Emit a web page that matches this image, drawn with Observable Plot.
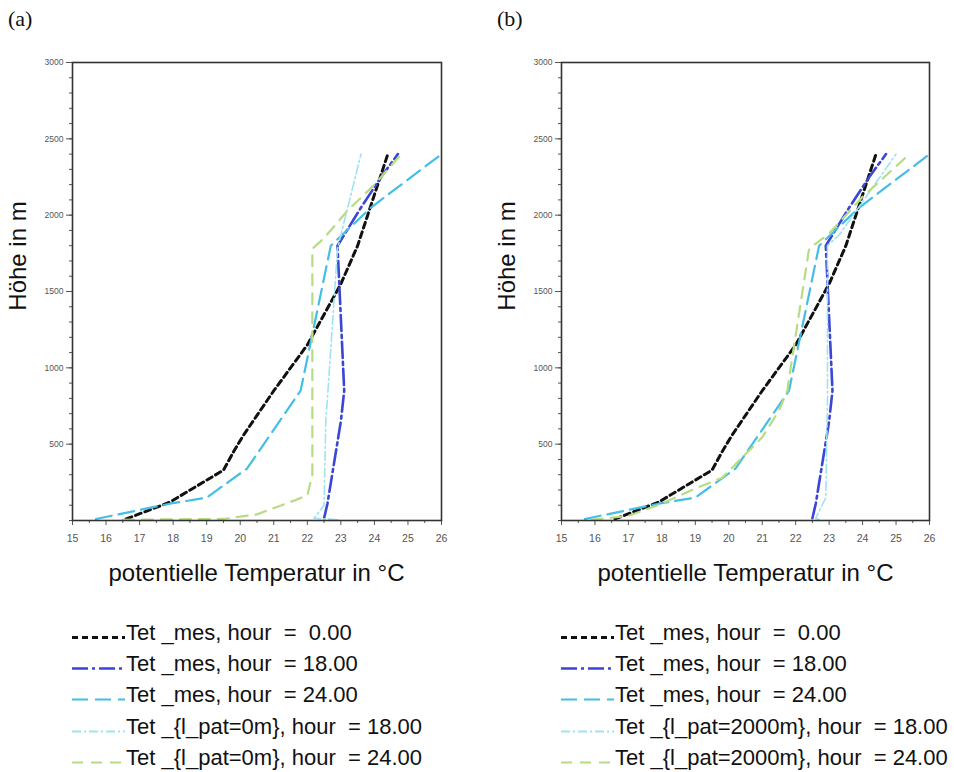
<!DOCTYPE html>
<html>
<head>
<meta charset="utf-8">
<script src="https://cdn.jsdelivr.net/npm/d3@7"></script>
<script src="https://cdn.jsdelivr.net/npm/@observablehq/plot@0.6"></script>
<style>
  body { margin: 0; background: #fff; font-family: "Liberation Sans", Arial, sans-serif; }
  #wrap { position: relative; width: 954px; height: 772px; overflow: hidden; }
  .panel { position: absolute; top: 0; }
  .plabel { position: absolute; top: 8px; font-family: "Liberation Serif", "DejaVu Serif", serif; font-size: 22px; line-height: 22px; color: #111; }
  .ytitle { position: absolute; font-size: 24px; line-height: 24px; white-space: nowrap; transform: translate(-50%, -50%) rotate(-90deg); color: #111; }
  .xtitle { position: absolute; top: 561px; width: 369px; text-align: center; font-size: 24px; line-height: 24px; color: #111; white-space: nowrap; }
  .legend { position: absolute; top: 617px; }
  .row { height: 31.2px; line-height: 31.2px; font-size: 22px; white-space: pre; color: #111; }
  .row svg { vertical-align: baseline; margin-right: 1px; }
</style>
</head>
<body>
<div id="wrap"></div>
<script>
// ---------------- data ----------------
// x ticks / y ticks
const xTicks = [15, 16, 17, 18, 19, 20, 21, 22, 23, 24, 25, 26];
const yTicks = [500, 1000, 1500, 2000, 2500, 3000];

// measured profiles [potential temperature °C, height m] (same in both panels)
const tetMes0 = [[16.6,10],[17.9,120],[19.5,330],[19.8,450],[20.1,560],[21.0,850],[22.0,1150],[23.0,1550],[23.5,1800],[23.8,2000],[24.4,2400]];
const tetMes18 = [[22.5,15],[22.6,110],[23.0,650],[23.1,850],[22.9,1800],[23.6,2050],[24.2,2250],[24.7,2400]];
const tetMes24 = [[15.7,10],[17.9,110],[19.0,150],[20.2,340],[21.8,850],[22.7,1800],[23.9,2050],[26.0,2400]];

// model profiles, panel (a): l_pat = 0 m
const patA18 = [[22.9,5],[22.2,15],[22.5,100],[22.55,650],[22.6,800],[22.9,1780],[23.6,2400]];
const patA24 = [[16.5,5],[19.5,10],[20.5,40],[21.6,130],[22.0,165],[22.15,300],[22.15,1780],[22.5,1850],[23.2,2030],[24.0,2200],[24.8,2400]];

// model profiles, panel (b): l_pat = 2000 m
const patB18 = [[22.7,5],[22.6,15],[22.9,150],[22.95,800],[22.95,1800],[23.3,1870],[24.2,2150],[25.0,2400]];
const patB24 = [[15.9,5],[17.0,30],[18.0,110],[18.9,200],[19.8,280],[21.0,545],[21.5,720],[21.75,850],[21.85,1000],[22.4,1780],[23.0,1880],[24.0,2120],[25.4,2400]];

// legend labels
const legendA = ["Tet _mes, hour  =  0.00", "Tet _mes, hour  = 18.00", "Tet _mes, hour  = 24.00", "Tet _{l_pat=0m}, hour  = 18.00", "Tet _{l_pat=0m}, hour  = 24.00"];
const legendB = ["Tet _mes, hour  =  0.00", "Tet _mes, hour  = 18.00", "Tet _mes, hour  = 24.00", "Tet _{l_pat=2000m}, hour  = 18.00", "Tet _{l_pat=2000m}, hour  = 24.00"];

// ---------------- styles ----------------
const styles = [
  {stroke: "#111111", strokeWidth: 3, dash: "6,4"},
  {stroke: "#3b45d6", strokeWidth: 2.6, dash: "16,4,3,4"},
  {stroke: "#45bde6", strokeWidth: 2.2, dash: "16,7"},
  {stroke: "#9fe2f0", strokeWidth: 1.6, dash: "9,3,2,3"},
  {stroke: "#b6dc84", strokeWidth: 2.2, dash: "11,8"}
];

function panel(seriesList, width, marginRight) {
  return Plot.plot({
    width, height: 595,
    marginLeft: 72, marginRight, marginTop: 62, marginBottom: 75,
    x: {domain: [15, 26]},
    y: {domain: [0, 3000]},
    style: {fontFamily: "Liberation Sans, Arial, sans-serif", background: "#fff", color: "#444"},
    marks: [
      Plot.axisY(d3.range(0, 3001, 100), {tickSize: 3, tickFormat: () => "", label: null, stroke: "#555"}),
      Plot.axisY(yTicks, {tickSize: 6, tickPadding: 3, fontSize: 8.5, label: null, tickFormat: d => String(d), stroke: "#555", fill: "#555"}),
      Plot.axisX(d3.range(15.5, 26, 1), {tickSize: 3, tickFormat: () => "", label: null, stroke: "#555"}),
      Plot.axisX(xTicks, {tickSize: 5, tickPadding: 9, fontSize: 10.5, label: null, tickFormat: d => String(d), stroke: "#555", fill: "#555"}),
      ...seriesList.map((s, i) => Plot.line(s, {
        x: d => d[0], y: d => d[1],
        stroke: styles[i].stroke, strokeWidth: styles[i].strokeWidth,
        strokeDasharray: styles[i].dash, strokeLinejoin: "round"
      })),
      Plot.frame({stroke: "#333", strokeWidth: 1.6})
    ]
  });
}

const wrap = document.getElementById("wrap");

function addPanel(left, width, marginRight, series, label, legend) {
  const svg = panel(series, width, marginRight);
  svg.classList.add("panel");
  svg.style.left = left + "px";
  wrap.appendChild(svg);

  const pl = document.createElement("div");
  pl.className = "plabel"; pl.textContent = label;
  pl.style.left = (left + 8) + "px";
  wrap.appendChild(pl);

  const yt = document.createElement("div");
  yt.className = "ytitle"; yt.textContent = "Höhe in m";
  yt.style.left = (left + 18) + "px"; yt.style.top = "256px";
  wrap.appendChild(yt);

  const xt = document.createElement("div");
  xt.className = "xtitle"; xt.textContent = "potentielle Temperatur in °C";
  xt.style.left = (left + 72) + "px";
  wrap.appendChild(xt);

  const lg = document.createElement("div");
  lg.className = "legend";
  lg.style.left = (left + 72) + "px";
  legend.forEach((t, i) => {
    const row = document.createElement("div");
    row.className = "row";
    const st = styles[i];
    row.innerHTML = `<svg width="53" height="5"><line x1="0" x2="53" y1="2.5" y2="2.5" stroke="${st.stroke}" stroke-width="${Math.max(st.strokeWidth,2)}" stroke-dasharray="${st.dash}"/></svg>`;
    row.appendChild(document.createTextNode(t));
    lg.appendChild(row);
  });
  wrap.appendChild(lg);
}

addPanel(0, 489, 48, [tetMes0, tetMes18, tetMes24, patA18, patA24], "(a)", legendA);
addPanel(489, 465, 25, [tetMes0, tetMes18, tetMes24, patB18, patB24], "(b)", legendB);
</script>
</body>
</html>
